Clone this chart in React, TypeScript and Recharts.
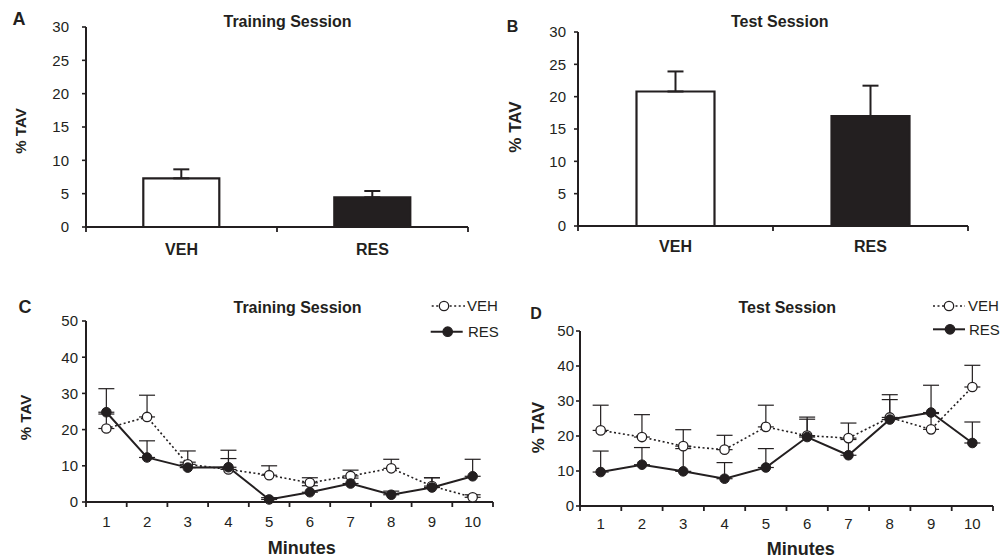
import React from 'react';
import { BarChart, Bar, Cell, XAxis, YAxis, ErrorBar, LineChart, Line } from 'recharts';

const FONT = '"Liberation Sans", Arial, Helvetica, sans-serif';
const INK = '#231f20';

// ---- Panels A & B (bar charts) ----
const groups = ['VEH', 'RES'];
const trainingMeans = [7.3, 4.45];
const trainingSem = [1.35, 0.95];
const testMeans = [20.8, 17.0];
const testSem = [3.1, 4.7];
const barTicks = [0, 5, 10, 15, 20, 25, 30];

// ---- Panels C & D (minute-by-minute) ----
const minutes = [1, 2, 3, 4, 5, 6, 7, 8, 9, 10];
const lineTicks = [0, 10, 20, 30, 40, 50];
const trainVeh = [20.3, 23.5, 10.4, 9.0, 7.4, 5.3, 7.2, 9.3, 4.4, 1.3];
const trainVehSem = [4.0, 6.0, 3.7, 3.0, 2.6, 1.4, 1.6, 2.5, 2.3, 0.7];
const trainRes = [24.8, 12.3, 9.5, 9.6, 0.7, 2.7, 5.1, 2.0, 4.0, 7.1];
const trainResSem = [6.5, 4.6, 1.5, 4.7, 0.5, 1.8, 1.5, 1.0, 2.7, 4.7];
const testVeh = [21.6, 19.7, 17.1, 16.1, 22.6, 20.1, 19.4, 25.3, 21.9, 34.0];
const testVehSem = [7.2, 6.4, 4.7, 4.1, 6.2, 5.3, 4.3, 6.5, 4.5, 6.2];
const testRes = [9.7, 11.8, 9.9, 7.8, 11.0, 19.7, 14.5, 24.7, 26.7, 18.0];
const testResSem = [6.0, 4.9, 6.5, 4.6, 5.4, 5.1, 4.5, 5.7, 7.8, 6.0];

const barRows = (means: number[], sem: number[]) =>
  groups.map((g, i) => ({ group: g, value: means[i], err: [0, sem[i]] }));
const lineRows = (veh: number[], vehSem: number[], res: number[], resSem: number[]) =>
  minutes.map((m, i) => ({
    minute: m,
    veh: veh[i],
    vehErr: [0, vehSem[i]],
    res: res[i],
    resErr: [0, resSem[i]],
  }));

const trainingBars = barRows(trainingMeans, trainingSem);
const testBars = barRows(testMeans, testSem);
const trainingLines = lineRows(trainVeh, trainVehSem, trainRes, trainResSem);
const testLines = lineRows(testVeh, testVehSem, testRes, testResSem);

// Tick: label at band centre, tick marks at band boundaries
function BandTick(props: any) {
  const { x, y, payload, index, visibleTicksCount, n, gap, fontSize, fontWeight, axisW } = props;
  const half = axisW / n / 2;
  const axisY = y - gap;
  const last = index === visibleTicksCount - 1;
  return (
    <g>
      <line x1={x - half} x2={x - half} y1={axisY} y2={axisY + 5} stroke={INK} strokeWidth={1.8} />
      {last && <line x1={x + half} x2={x + half} y1={axisY} y2={axisY + 5} stroke={INK} strokeWidth={1.8} />}
      <text x={x} y={y} dy="0.71em" textAnchor="middle" fill={INK} fontSize={fontSize} fontWeight={fontWeight} fontFamily={FONT}>
        {payload.value}
      </text>
    </g>
  );
}

function BarPanel({ data, left, top, width, height, margin, tickSize, tickMargin, gap }: any) {
  const plotW = width - margin.left - margin.right - 40;
  return (
    <div style={{ position: 'absolute', left, top, width, height }}>
      <BarChart width={width} height={height} data={data} margin={margin} barCategoryGap="30%">
        <XAxis
          dataKey="group"
          tickLine={false}
          tickSize={0}
          tickMargin={gap}
          axisLine={{ stroke: INK, strokeWidth: 2 }}
          interval={0}
          tick={(p: any) => <BandTick {...p} n={groups.length} gap={gap} fontSize={16} fontWeight="bold" axisW={plotW} />}
        />
        <YAxis
          width={40}
          domain={[0, 30]}
          ticks={barTicks}
          interval={0}
          tickSize={tickSize}
          tickMargin={tickMargin}
          axisLine={{ stroke: INK, strokeWidth: 2 }}
          tickLine={{ stroke: INK, strokeWidth: 1.6 }}
          tick={{ fill: INK, fontSize: 15, fontFamily: FONT }}
        />
        <Bar dataKey="value" stroke={INK} strokeWidth={2.2} isAnimationActive={false}>
          {data.map((d: any, i: number) => (
            <Cell key={d.group} fill={i === 0 ? '#ffffff' : INK} />
          ))}
          <ErrorBar dataKey="err" direction="y" width={8} stroke={INK} strokeWidth={2} />
        </Bar>
      </BarChart>
    </div>
  );
}

function LinePanel({ data, left, top, width, height, margin, tickSize, tickMargin, gap }: any) {
  const plotW = width - margin.left - margin.right - 40;
  return (
    <div style={{ position: 'absolute', left, top, width, height }}>
      <LineChart width={width} height={height} data={data} margin={margin}>
        <XAxis
          type="number"
          dataKey="minute"
          domain={[0.5, 10.5]}
          ticks={minutes}
          interval={0}
          tickLine={false}
          tickSize={0}
          tickMargin={gap}
          axisLine={{ stroke: INK, strokeWidth: 2 }}
          tick={(p: any) => <BandTick {...p} n={minutes.length} gap={gap} fontSize={15} fontWeight="normal" axisW={plotW} />}
        />
        <YAxis
          width={40}
          domain={[0, 50]}
          ticks={lineTicks}
          interval={0}
          tickSize={tickSize}
          tickMargin={tickMargin}
          axisLine={{ stroke: INK, strokeWidth: 2 }}
          tickLine={{ stroke: INK, strokeWidth: 1.6 }}
          tick={{ fill: INK, fontSize: 15, fontFamily: FONT }}
        />
        <Line dataKey="veh" stroke="none" dot={false} activeDot={false} isAnimationActive={false} legendType="none">
          <ErrorBar dataKey="vehErr" direction="y" width={8} stroke={INK} strokeWidth={1.2} />
        </Line>
        <Line dataKey="res" stroke="none" dot={false} activeDot={false} isAnimationActive={false} legendType="none">
          <ErrorBar dataKey="resErr" direction="y" width={8} stroke={INK} strokeWidth={1.2} />
        </Line>
        <Line dataKey="veh" stroke={INK} strokeWidth={1.6} strokeDasharray="2 2.5"
          dot={{ r: 4.7, fill: '#ffffff', stroke: INK, strokeWidth: 1.3, strokeDasharray: '' }}
          activeDot={false} isAnimationActive={false} />
        <Line dataKey="res" stroke={INK} strokeWidth={2}
          dot={{ r: 4.8, fill: INK, stroke: INK, strokeWidth: 1 }}
          activeDot={false} isAnimationActive={false} />
      </LineChart>
    </div>
  );
}

function T({ x, y, size, bold, anchor = 'middle', children, rotate }: any) {
  return (
    <text x={x} y={y} fontSize={size} fontWeight={bold ? 'bold' : 'normal'} fontFamily={FONT} fill={INK}
      textAnchor={anchor} dominantBaseline={rotate ? 'central' : undefined}
      transform={rotate ? `rotate(-90 ${x} ${y})` : undefined}>
      {children}
    </text>
  );
}

function LegendRow({ x1, x2, cx, y, filled, label, tx }: any) {
  return (
    <g>
      <line x1={x1} x2={x2} y1={y} y2={y} stroke={INK} strokeWidth={filled ? 2 : 1.6}
        strokeDasharray={filled ? undefined : '2 2.5'} />
      <circle cx={cx} cy={y} r={4.7} fill={filled ? INK : '#ffffff'} stroke={INK} strokeWidth={1.3} />
      <text x={tx} y={y + 5.4} fontSize={15} fontFamily={FONT} fill={INK}>{label}</text>
    </g>
  );
}

export default function App() {
  return (
    <div style={{ position: 'absolute', left: 0, top: 0, width: 1004, height: 558, background: '#ffffff', overflow: 'hidden' }}>
      <BarPanel data={trainingBars} left={0} top={0} width={490} height={270}
        margin={{ top: 27, right: 22, bottom: 13, left: 46 }} tickSize={4} tickMargin={13} gap={16.3} />
      <BarPanel data={testBars} left={490} top={0} width={514} height={270}
        margin={{ top: 32, right: 36, bottom: 14, left: 48 }} tickSize={4} tickMargin={8} gap={15} />
      <LinePanel data={trainingLines} left={0} top={280} width={500} height={278}
        margin={{ top: 41, right: 7, bottom: 26, left: 46 }} tickSize={4} tickMargin={4} gap={14.4} />
      <LinePanel data={testLines} left={500} top={280} width={504} height={278}
        margin={{ top: 51, right: 11, bottom: 22, left: 40 }} tickSize={4} tickMargin={2} gap={12.2} />

      <svg width={1004} height={558} style={{ position: 'absolute', left: 0, top: 0, pointerEvents: 'none' }}>
        <T x={19} y={25} size={18} bold>A</T>
        <T x={512.5} y={31.7} size={16} bold>B</T>
        <T x={25} y={313.3} size={18} bold>C</T>
        <T x={536} y={319.3} size={16} bold>D</T>
        <T x={287.5} y={26.7} size={16} bold>Training Session</T>
        <T x={779.7} y={27.3} size={16} bold>Test Session</T>
        <T x={297.5} y={313.3} size={16} bold>Training Session</T>
        <T x={787.3} y={313.3} size={16} bold>Test Session</T>
        <T x={20} y={131} size={15} bold rotate>% TAV</T>
        <T x={515} y={127} size={17} bold rotate>% TAV</T>
        <T x={25} y={417.5} size={15} bold rotate>% TAV</T>
        <T x={538.3} y={427.5} size={17} bold rotate>% TAV</T>
        <T x={301.7} y={554} size={18} bold>Minutes</T>
        <T x={800.8} y={555} size={18} bold>Minutes</T>
        <LegendRow x1={431.7} x2={465} cx={444} y={306} label="VEH" tx={467} />
        <LegendRow x1={430.7} x2={462.7} cx={447.7} y={331.7} filled label="RES" tx={468} />
        <LegendRow x1={933} x2={965} cx={949} y={306} label="VEH" tx={968} />
        <LegendRow x1={933} x2={965} cx={950} y={329.3} filled label="RES" tx={969} />
      </svg>
    </div>
  );
}
